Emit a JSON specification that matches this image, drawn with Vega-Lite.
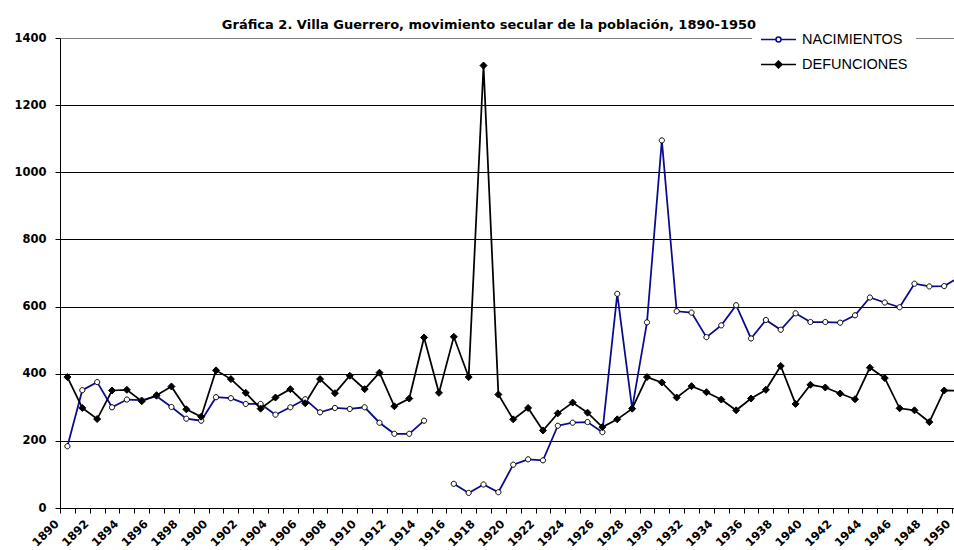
{
  "$schema": "https://vega.github.io/schema/vega-lite/v6.json",
  "autosize": {"type": "none"},
  "padding": {"left": 60, "top": 38, "right": 0, "bottom": 42},
  "width": 894,
  "height": 470,
  "background": "white",
  "config": {"view": {"stroke": null}},
  "title": {
    "text": "Gráfica 2. Villa Guerrero, movimiento secular de la población, 1890-1950",
    "font": "DejaVu Sans",
    "fontSize": 13,
    "fontWeight": "bold",
    "color": "black",
    "anchor": "middle",
    "frame": "group",
    "dx": -18,
    "offset": -29,
    "baseline": "alphabetic"
  },
  "data": {
    "values": [
      {"year": 1890, "NACIMIENTOS": 184, "DEFUNCIONES": 390},
      {"year": 1891, "NACIMIENTOS": 351, "DEFUNCIONES": 298},
      {"year": 1892, "NACIMIENTOS": 375, "DEFUNCIONES": 265},
      {"year": 1893, "NACIMIENTOS": 300, "DEFUNCIONES": 350},
      {"year": 1894, "NACIMIENTOS": 323, "DEFUNCIONES": 352},
      {"year": 1895, "NACIMIENTOS": 321, "DEFUNCIONES": 318},
      {"year": 1896, "NACIMIENTOS": 333, "DEFUNCIONES": 336},
      {"year": 1897, "NACIMIENTOS": 301, "DEFUNCIONES": 362},
      {"year": 1898, "NACIMIENTOS": 266, "DEFUNCIONES": 294},
      {"year": 1899, "NACIMIENTOS": 260, "DEFUNCIONES": 272},
      {"year": 1900, "NACIMIENTOS": 330, "DEFUNCIONES": 410},
      {"year": 1901, "NACIMIENTOS": 327, "DEFUNCIONES": 384},
      {"year": 1902, "NACIMIENTOS": 310, "DEFUNCIONES": 343},
      {"year": 1903, "NACIMIENTOS": 310, "DEFUNCIONES": 296},
      {"year": 1904, "NACIMIENTOS": 278, "DEFUNCIONES": 329},
      {"year": 1905, "NACIMIENTOS": 300, "DEFUNCIONES": 354},
      {"year": 1906, "NACIMIENTOS": 324, "DEFUNCIONES": 312},
      {"year": 1907, "NACIMIENTOS": 285, "DEFUNCIONES": 384},
      {"year": 1908, "NACIMIENTOS": 298, "DEFUNCIONES": 342},
      {"year": 1909, "NACIMIENTOS": 295, "DEFUNCIONES": 394},
      {"year": 1910, "NACIMIENTOS": 300, "DEFUNCIONES": 354},
      {"year": 1911, "NACIMIENTOS": 254, "DEFUNCIONES": 403},
      {"year": 1912, "NACIMIENTOS": 221, "DEFUNCIONES": 303},
      {"year": 1913, "NACIMIENTOS": 221, "DEFUNCIONES": 326},
      {"year": 1914, "NACIMIENTOS": 260, "DEFUNCIONES": 508},
      {"year": 1915, "NACIMIENTOS": null, "DEFUNCIONES": 343},
      {"year": 1916, "NACIMIENTOS": 72, "DEFUNCIONES": 510},
      {"year": 1917, "NACIMIENTOS": 45, "DEFUNCIONES": 390},
      {"year": 1918, "NACIMIENTOS": 70, "DEFUNCIONES": 1318},
      {"year": 1919, "NACIMIENTOS": 47, "DEFUNCIONES": 338},
      {"year": 1920, "NACIMIENTOS": 129, "DEFUNCIONES": 264},
      {"year": 1921, "NACIMIENTOS": 145, "DEFUNCIONES": 298},
      {"year": 1922, "NACIMIENTOS": 142, "DEFUNCIONES": 231},
      {"year": 1923, "NACIMIENTOS": 245, "DEFUNCIONES": 282},
      {"year": 1924, "NACIMIENTOS": 254, "DEFUNCIONES": 314},
      {"year": 1925, "NACIMIENTOS": 256, "DEFUNCIONES": 284},
      {"year": 1926, "NACIMIENTOS": 226, "DEFUNCIONES": 241},
      {"year": 1927, "NACIMIENTOS": 638, "DEFUNCIONES": 264},
      {"year": 1928, "NACIMIENTOS": 296, "DEFUNCIONES": 296},
      {"year": 1929, "NACIMIENTOS": 553, "DEFUNCIONES": 390},
      {"year": 1930, "NACIMIENTOS": 1095, "DEFUNCIONES": 374},
      {"year": 1931, "NACIMIENTOS": 586, "DEFUNCIONES": 329},
      {"year": 1932, "NACIMIENTOS": 582, "DEFUNCIONES": 363},
      {"year": 1933, "NACIMIENTOS": 509, "DEFUNCIONES": 345},
      {"year": 1934, "NACIMIENTOS": 544, "DEFUNCIONES": 323},
      {"year": 1935, "NACIMIENTOS": 604, "DEFUNCIONES": 291},
      {"year": 1936, "NACIMIENTOS": 505, "DEFUNCIONES": 326},
      {"year": 1937, "NACIMIENTOS": 560, "DEFUNCIONES": 352},
      {"year": 1938, "NACIMIENTOS": 531, "DEFUNCIONES": 423},
      {"year": 1939, "NACIMIENTOS": 580, "DEFUNCIONES": 310},
      {"year": 1940, "NACIMIENTOS": 554, "DEFUNCIONES": 367},
      {"year": 1941, "NACIMIENTOS": 554, "DEFUNCIONES": 359},
      {"year": 1942, "NACIMIENTOS": 552, "DEFUNCIONES": 341},
      {"year": 1943, "NACIMIENTOS": 574, "DEFUNCIONES": 324},
      {"year": 1944, "NACIMIENTOS": 627, "DEFUNCIONES": 418},
      {"year": 1945, "NACIMIENTOS": 612, "DEFUNCIONES": 387},
      {"year": 1946, "NACIMIENTOS": 598, "DEFUNCIONES": 297},
      {"year": 1947, "NACIMIENTOS": 668, "DEFUNCIONES": 291},
      {"year": 1948, "NACIMIENTOS": 660, "DEFUNCIONES": 256},
      {"year": 1949, "NACIMIENTOS": 661, "DEFUNCIONES": 350},
      {"year": 1950, "NACIMIENTOS": 687, "DEFUNCIONES": 349}
    ]
  },
  "transform": [
    {"fold": ["NACIMIENTOS", "DEFUNCIONES"], "as": ["serie", "valor"]}
  ],
  "encoding": {
    "x": {
      "field": "year",
      "type": "quantitative",
      "scale": {"domain": [1889.5, 1949.66], "nice": false, "zero": false},
      "axis": {
        "title": null,
        "grid": false,
        "values": [1889.5,1890.5,1891.5,1892.5,1893.5,1894.5,1895.5,1896.5,1897.5,1898.5,1899.5,1900.5,1901.5,1902.5,1903.5,1904.5,1905.5,1906.5,1907.5,1908.5,1909.5,1910.5,1911.5,1912.5,1913.5,1914.5,1915.5,1916.5,1917.5,1918.5,1919.5,1920.5,1921.5,1922.5,1923.5,1924.5,1925.5,1926.5,1927.5,1928.5,1929.5,1930.5,1931.5,1932.5,1933.5,1934.5,1935.5,1936.5,1937.5,1938.5,1939.5,1940.5,1941.5,1942.5,1943.5,1944.5,1945.5,1946.5,1947.5,1948.5,1949.5],
        "labelExpr": "(datum.value + 0.5) % 2 === 0 ? '' + (datum.value + 0.5) : ''",
        "labelAngle": -45,
        "labelAlign": "right",
        "labelBaseline": "middle",
        "labelOffset": -3,
        "labelPadding": 9,
        "labelFlush": false,
        "labelOverlap": false,
        "labelBound": false,
        "labelFont": "DejaVu Sans",
        "labelFontSize": 11.5,
        "labelFontWeight": "bold",
        "labelColor": "black",
        "tickSize": 5,
        "tickColor": "black",
        "domainColor": "black",
        "domainWidth": 1
      }
    },
    "y": {
      "field": "valor",
      "type": "quantitative",
      "scale": {"domain": [0, 1400], "nice": false},
      "axis": {
        "title": null,
        "format": "d",
        "values": [0, 200, 400, 600, 800, 1000, 1200, 1400],
        "grid": true,
        "gridColor": {"condition": {"test": "datum.value === 1400", "value": "#808080"}, "value": "black"},
        "gridWidth": 1,
        "gridOpacity": 1,
        "tickSize": 5,
        "tickColor": "black",
        "domainColor": "black",
        "labelFont": "DejaVu Sans",
        "labelFontSize": 11.5,
        "labelFontWeight": "bold",
        "labelColor": "black",
        "labelPadding": 9
      }
    }
  },
  "layer": [
    {
      "mark": {"type": "line", "strokeWidth": 1.75, "clip": true, "invalid": "break-paths-filter-domains"},
      "encoding": {
        "color": {
          "field": "serie",
          "type": "nominal",
          "scale": {"domain": ["NACIMIENTOS", "DEFUNCIONES"], "range": ["#0a0a8c", "#000000"]},
          "legend": {
            "title": null,
            "orient": "none",
            "legendX": 692,
            "legendY": -25,
            "padding": 8,
            "fillColor": "white",
            "symbolSize": 1225,
            "symbolStrokeWidth": 1.5,
            "symbolType": "M-1,0H1",
            "labelOffset": 5,
            "labelFont": "Liberation Sans",
            "labelFontSize": 14.5,
            "labelColor": "black",
            "rowPadding": -5,
            "encode": {
              "symbols": {
                "update": {
                  "shape": {"signal": "datum.value === 'NACIMIENTOS' ? 'M-1,0H-0.143M0.143,0H1M-0.143,0A0.143,0.143,0,1,1,0.143,0A0.143,0.143,0,1,1,-0.143,0Z' : 'M-1,0H-0.2M0.2,0H1M-0.2,0L0,-0.2L0.2,0L0,0.2Z'"},
                  "fill": {"signal": "datum.value === 'NACIMIENTOS' ? 'white' : 'black'"},
                  "stroke": {"signal": "datum.value === 'NACIMIENTOS' ? '#0a0a8c' : 'black'"},
                  "strokeWidth": {"value": 1.5},
                  "opacity": {"value": 1}
                }
              }
            }
          }
        }
      }
    },
    {
      "transform": [{"filter": "datum.serie === 'NACIMIENTOS'"}],
      "mark": {"type": "point", "filled": true, "size": 49, "shape": "M-0.74,0A0.74,0.74,0,1,1,0.74,0A0.74,0.74,0,1,1,-0.74,0Z", "fill": "white", "stroke": "black", "strokeWidth": 1, "opacity": 1, "clip": true}
    },
    {
      "transform": [{"filter": "datum.serie === 'DEFUNCIONES'"}],
      "mark": {"type": "point", "filled": true, "size": 49, "shape": "diamond", "fill": "black", "stroke": "black", "strokeWidth": 1, "opacity": 1, "clip": true}
    }
  ]
}
